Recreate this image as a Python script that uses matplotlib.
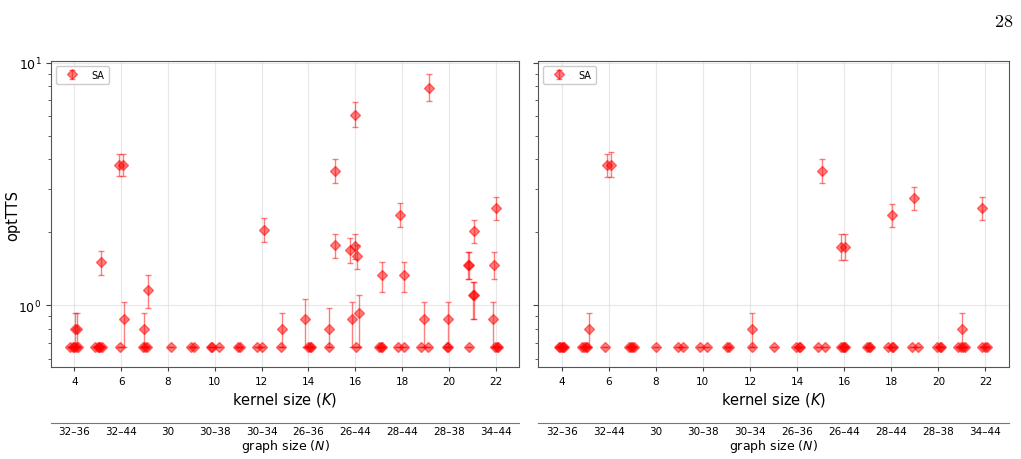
import numpy as np
import matplotlib.pyplot as plt

# baseline optTTS value that most instances sit on
B = 0.673

# left panel: kernel size (with the small spread of instances), optTTS, error band
k_left = [3.82, 3.92, 4.00, 4.08, 4.15, 4.03, 4.10,
          4.90, 5.00, 5.05, 5.10, 5.17, 5.13,
          5.96, 6.13, 5.92, 6.08,
          6.92, 7.02, 7.10, 6.98, 7.16,
          8.12, 8.97, 9.11, 9.84, 9.88, 10.20, 10.98, 11.08,
          11.82, 12.00, 12.10, 12.84, 12.86,
          13.86, 13.98, 14.05, 14.10,
          14.88, 14.88, 15.13, 15.13,
          15.86, 15.78, 15.98, 16.06, 16.17, 16.03, 16.00,
          17.00, 17.10, 17.15, 17.14,
          17.84, 18.10, 18.07, 17.93,
          18.80, 19.11, 18.94, 19.16,
          19.93, 19.97, 19.96,
          20.86, 20.81, 20.86, 21.03, 21.09, 21.09,
          21.91, 21.94, 21.98, 22.05, 22.12, 22.02]
tts_left = [B, B, B, B, B, 0.80, 0.80,
            B, B, B, B, B, 1.51,
            B, 0.88, 3.80, 3.80,
            B, B, B, 0.80, 1.16,
            B, B, B, B, B, B, B, B,
            B, B, 2.04, B, 0.80,
            0.88, B, B, B,
            B, 0.80, 1.77, 3.57,
            0.88, 1.69, 1.75, 1.60, 0.93, B, 6.07,
            B, B, B, 1.33,
            B, B, 1.33, 2.36,
            B, B, 0.88, 7.87,
            B, B, 0.88,
            B, 1.47, 1.47, 1.10, 1.10, 2.02,
            0.88, 1.47, B, B, B, 2.51]
lo_left = [B, B, B, B, B, B, B,
           B, B, B, B, B, 1.33,
           B, B, 3.40, 3.40,
           B, B, B, B, 0.978,
           B, B, B, B, B, B, B, B,
           B, B, 1.82, B, B,
           B, B, B, B,
           B, B, 1.56, 3.20,
           B, 1.49, 1.55, 1.41, B, B, 5.41,
           B, B, B, 1.13,
           B, B, 1.13, 2.10,
           B, B, B, 6.96,
           B, B, B,
           B, 1.28, 1.28, 0.876, 0.876, 1.80,
           B, 1.28, B, B, B, 2.25]
hi_left = [B, B, B, B, B, 0.93, 0.93,
           B, B, B, B, B, 1.67,
           B, 1.03, 4.22, 4.22,
           B, B, B, 0.93, 1.33,
           B, B, B, B, B, B, B, B,
           B, B, 2.28, B, 0.93,
           1.065, B, B, B,
           B, 0.978, 1.97, 4.01,
           1.03, 1.89, 1.97, 1.77, 1.10, B, 6.90,
           B, B, B, 1.51,
           B, B, 1.51, 2.63,
           B, B, 1.03, 8.94,
           B, B, 1.03,
           B, 1.65, 1.65, 1.25, 1.25, 2.24,
           1.03, 1.65, B, B, B, 2.80]

# right panel
k_right = [3.88, 3.95, 4.00, 4.05, 4.12,
           4.85, 4.97, 5.05, 5.10, 5.16,
           5.84, 5.92, 6.10,
           6.85, 6.95, 7.00, 7.07,
           8.00, 8.96, 9.14, 9.88, 10.19, 11.03, 11.12,
           12.08, 12.08, 13.00,
           13.95, 14.08, 14.12,
           14.88, 15.19, 15.04,
           15.85, 15.95, 16.00, 16.05, 15.88, 16.04,
           16.95, 17.05, 17.10,
           17.85, 18.02, 18.08, 18.05,
           18.88, 19.15, 18.97,
           19.95, 20.05, 20.12,
           20.85, 20.95, 21.05, 21.15, 21.00,
           21.85, 22.00, 22.08, 21.87]
tts_right = [B, B, B, B, B,
             B, B, B, B, 0.80,
             B, 3.80, 3.80,
             B, B, B, B,
             B, B, B, B, B, B, B,
             B, 0.80, B,
             B, B, B,
             B, B, 3.57,
             B, B, B, B, 1.74, 1.74,
             B, B, B,
             B, B, B, 2.35,
             B, B, 2.77,
             B, B, B,
             B, B, B, B, 0.80,
             B, B, B, 2.51]
lo_right = [B, B, B, B, B,
            B, B, B, B, B,
            B, 3.39, 3.39,
            B, B, B, B,
            B, B, B, B, B, B, B,
            B, B, B,
            B, B, B,
            B, B, 3.19,
            B, B, B, B, 1.54, 1.54,
            B, B, B,
            B, B, B, 2.10,
            B, B, 2.48,
            B, B, B,
            B, B, B, B, B,
            B, B, B, 2.24]
hi_right = [B, B, B, B, B,
            B, B, B, B, 0.93,
            B, 4.22, 4.27,
            B, B, B, B,
            B, B, B, B, B, B, B,
            B, 0.93, B,
            B, B, B,
            B, B, 3.99,
            B, B, B, B, 1.97, 1.97,
            B, B, B,
            B, B, B, 2.62,
            B, B, 3.08,
            B, B, B,
            B, B, B, B, 0.93,
            B, B, B, 2.79]

kernel_ticks = [4, 6, 8, 10, 12, 14, 16, 18, 20, 22]
graph_labels = ['32–36', '32–44', '30', '30–38', '30–34',
                '26–36', '26–44', '28–44', '28–38', '34–44']


def draw_panel(ax, k, tts, lo, hi):
    tts = np.array(tts)
    yerr = [tts - np.array(lo), np.array(hi) - tts]
    ax.errorbar(k, tts, yerr=yerr, fmt='D', color='red', alpha=0.5,
                ms=5, capsize=2, elinewidth=1, capthick=1, label='SA')
    ax.set_yscale('log')
    ax.set_ylim(0.556, 10.15)
    ax.set_xlim(3, 23)
    ax.set_xticks(kernel_ticks)
    ax.grid(True, color='#dddddd', alpha=0.7, lw=0.8)
    ax.tick_params(axis='x', labelsize=7.5, length=3, color='#444444')
    ax.tick_params(axis='y', which='both', labelsize=9, color='#444444')
    for s in ax.spines.values():
        s.set_color('#555555')
    ax.set_xlabel('kernel size ($K$)', fontsize=10.5, labelpad=3)
    ax.legend(loc='upper left', fontsize=7, handlelength=2.5,
              framealpha=1, edgecolor='#cccccc')

    sec = ax.secondary_xaxis(-0.183)
    sec.set_xticks(kernel_ticks)
    sec.set_xticklabels(graph_labels)
    sec.tick_params(length=0, labelsize=7.5, pad=2)
    sec.spines['bottom'].set_color('#777777')
    sec.set_xlabel('graph size ($N$)', fontsize=9, labelpad=1)


fig = plt.figure(figsize=(10.21, 4.6), dpi=100)
ax1 = fig.add_axes([51 / 1021, 0.20, 468 / 1021, 0.665])
ax2 = fig.add_axes([538 / 1021, 0.20, 471 / 1021, 0.665], sharey=ax1)

draw_panel(ax1, k_left, tts_left, lo_left, hi_left)
draw_panel(ax2, k_right, tts_right, lo_right, hi_right)
ax1.set_ylabel('optTTS', fontsize=10.5)
ax1.yaxis.set_label_coords(-0.066, 0.5)
ax2.tick_params(axis='y', which='both', labelleft=False)

fig.text(0.992, 0.952, r'$28$', ha='right', va='center', fontsize=13,
         math_fontfamily='cm')

fig.savefig('out.png', dpi=100)
